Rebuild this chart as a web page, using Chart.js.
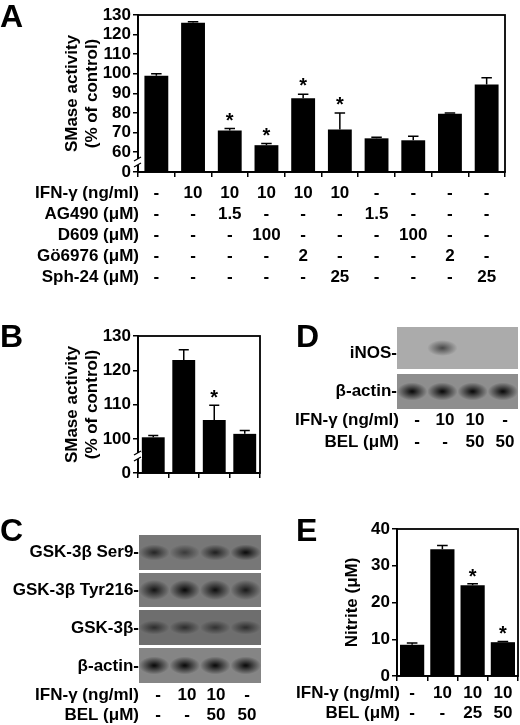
<!DOCTYPE html>
<html><head><meta charset="utf-8">
<script src="https://cdn.jsdelivr.net/npm/chart.js@4/dist/chart.umd.min.js"></script>
<style>
body{margin:0;background:#fff;width:520px;height:725px;position:relative;overflow:hidden;font-family:"Liberation Sans",Arial,sans-serif}
.c{position:absolute}
</style></head><body>
<canvas id="ov" class="c" width="520" height="725" style="left:0;top:0;width:520px;height:725px"></canvas>
<div class="c" style="left:0;top:0;width:520px;height:290px"><canvas id="cA"></canvas></div>
<div class="c" style="left:0;top:300px;width:290px;height:190px"><canvas id="cB"></canvas></div>
<div class="c" style="left:290px;top:500px;width:230px;height:225px"><canvas id="cE"></canvas></div>
<script>
// ---- data ----
const catsA = ['1','2','3','4','5','6','7','8','9','10'];
const valsA = [99,126,71,63.5,87.5,71.5,67,66,79.5,94.5];
const errA  = [1,0.5,1,0.8,2,8.5,0.5,2,0.5,3.5];
const starA = [0,0,1,1,1,1,0,0,0,0];
const rowLabelsA = ['IFN-γ (ng/ml)','AG490 (μM)','D609 (μM)','Gö6976 (μM)','Sph-24 (μM)'];
const rowsA = [
 ['-','10','10','10','10','10','-','-','-','-'],
 ['-','-','1.5','-','-','-','1.5','-','-','-'],
 ['-','-','-','100','-','-','-','100','-','-'],
 ['-','-','-','-','2','-','-','-','2','-'],
 ['-','-','-','-','-','25','-','-','-','25']];
const ticksA = [60,70,80,90,100,110,120,130];

const catsB = ['1','2','3','4'];
const valsB = [100.5,123,105.5,101.5];
const errB  = [0.5,3,4.3,1];
const starB = [0,0,1,0];
const ticksB = [100,110,120,130];

const catsE = ['1','2','3','4'];
const valsE = [8.5,34.5,24.7,9.2];
const errE  = [0.5,1,0.4,0.2];
const starE = [0,0,1,1];
const ticksE = [10,20,30,40];
const rowLabelsE = ['IFN-γ (ng/ml)','BEL (μM)'];
const rowsE = [['-','10','10','10'],['-','-','25','50']];

const rowLabelsCD = ['IFN-γ (ng/ml)','BEL (μM)'];
const rowsCD = [['-','10','10','-'],['-','-','50','50']];

const F = '"Liberation Sans", Arial, sans-serif';

function barChart(id, o){
  const plug = {
    id:'x'+id,
    afterDatasetsDraw(ch){
      const c=ch.ctx, a=ch.chartArea, x=ch.scales.x, y=ch.scales.y;
      c.save();
      c.strokeStyle='#000'; c.lineWidth=1.8;
      c.strokeRect(a.left,a.top,a.right-a.left,a.bottom-a.top);
      const meta=ch.getDatasetMeta(0);
      o.vals.forEach((v,i)=>{
        const bx=meta.data[i].x, bw=meta.data[i].width;
        const yt=y.getPixelForValue(v), ye=y.getPixelForValue(v+o.err[i]);
        c.lineWidth=1.5; c.beginPath(); c.moveTo(bx,yt); c.lineTo(bx,ye);
        c.moveTo(bx-bw*0.22,ye); c.lineTo(bx+bw*0.22,ye); c.stroke();
        if(o.star[i]){ c.fillStyle='#000'; c.font='bold 20px '+F; c.textAlign='center'; c.textBaseline='alphabetic';
          c.fillText('*',bx,ye+o.starOff); }
      });
      if(o.brk){
        const yb=(y.getPixelForValue(o.min)+y.getPixelForValue(o.ticks[0]))/2;
        c.fillStyle='#fff'; c.fillRect(a.left-4,yb-3,8,6);
        c.lineWidth=1.3; c.beginPath();
        c.moveTo(a.left-4,yb-1); c.lineTo(a.left+3,yb-5);
        c.moveTo(a.left-4,yb+5); c.lineTo(a.left+3,yb+1); c.stroke();
      }
      if(o.rows){
        c.fillStyle='#000'; c.font='bold '+o.rowFont+'px '+F; c.textBaseline='middle';
        o.rows.forEach((r,ri)=>{
          c.textAlign='right'; c.fillText(o.rowLabels[ri],o.labelX,o.rowY[ri]);
          c.textAlign='center';
          r.forEach((t,i)=>c.fillText(t,x.getPixelForValue(i),o.rowY[ri]));
        });
      }
      c.restore();
    }
  };
  new Chart(document.getElementById(id),{
    type:'bar',
    data:{labels:o.cats,datasets:[{data:o.vals,backgroundColor:'#000',borderWidth:0,barPercentage:o.bp,categoryPercentage:1,base:o.min}]},
    options:{responsive:true,maintainAspectRatio:false,animation:false,
      layout:{padding:{top:o.top,right:o.right,left:o.padL,bottom:0}},
      plugins:{legend:{display:false},tooltip:{enabled:false}},
      scales:{
        x:{ticks:{display:false},border:{color:'#000',width:1.8},
           grid:{display:true,drawOnChartArea:false,tickLength:5,color:'#000',lineWidth:1.5,offset:true},
           afterFit(s){s.height=o.xh;}},
        y:{min:o.min,max:o.max,border:{color:'#000',width:1.8},
           afterBuildTicks(s){s.ticks=[{value:o.min,label:'0'}].concat(o.ticks.map(v=>({value:v})));},
           ticks:{color:'#000',autoSkip:false,font:{family:F,size:o.tickFont,weight:'bold'},padding:2,
             callback(v){return v===o.min?'0':String(v);}},
           grid:{drawOnChartArea:false,tickLength:5,color:'#000',lineWidth:1.5},
           title:{display:true,text:o.title,color:'#000',font:{family:F,size:o.titleFont,weight:'bold'},padding:{bottom:0}},
           afterFit(s){s.width=o.yw;}}
      }},
    plugins:[plug]
  });
}

barChart('cA',{cats:catsA,vals:valsA,err:errA,star:starA,min:49.8,max:130,ticks:ticksA,brk:true,
  top:15,right:15,padL:58,xh:118,yw:80,bp:0.65,tickFont:17,title:['SMase activity','(% of control)'],titleFont:17,starOff:-2,
  rows:rowsA,rowLabels:rowLabelsA,rowY:[193,214,235,256,277],labelX:139,rowFont:17});
barChart('cB',{cats:catsB,vals:valsB,err:errB,star:starB,min:90.1,max:130,ticks:ticksB,brk:true,
  top:36,right:30,padL:58,xh:17,yw:80,bp:0.75,tickFont:17,title:['SMase activity','(% of control)'],titleFont:17,starOff:-1});
barChart('cE',{cats:catsE,vals:valsE,err:errE,star:starE,min:0,max:40,ticks:ticksE,brk:false,
  top:29,right:2,padL:48,xh:49,yw:59,bp:0.8,tickFont:17,title:'Nitrite (μM)',titleFont:17,starOff:-1,
  rows:rowsE,rowLabels:rowLabelsE,rowY:[193,213],labelX:110,rowFont:17});

// ---- overlay: letters, blots ----
const c=document.getElementById('ov').getContext('2d');
c.fillStyle='#000'; c.textBaseline='alphabetic'; c.textAlign='left';
c.font='bold 32px '+F;
c.fillText('A',0,27); c.fillText('B',0,347); c.fillText('D',296,347); c.fillText('C',0,541); c.fillText('E',296,541);

function blot(x,y,w,h,bg,bands,bh){
  c.fillStyle=bg; c.fillRect(x,y,w,h);
  const lw=w/4;
  bands.forEach((a,i)=>{
    if(a<=0)return;
    const cx=x+lw*(i+0.5), cy=y+h/2;
    const g=c.createRadialGradient(cx,cy,1,cx,cy,lw*0.5);
    g.addColorStop(0,'rgba(15,15,15,'+a+')'); g.addColorStop(1,'rgba(15,15,15,0)');
    c.save(); c.translate(cx,cy); c.scale(1,bh/lw); c.translate(-cx,-cy);
    c.fillStyle=g; c.beginPath(); c.arc(cx,cy,lw*0.5,0,Math.PI*2); c.fill(); c.restore();
  });
}
// C
blot(139,535,122,35,'#777',[0.75,0.55,0.8,1],16);
blot(139,573,122,34,'#7a7a7a',[0.9,1,0.95,0.85],20);
blot(139,610,122,35,'#6e6e6e',[0.65,0.65,0.6,0.65],14);
blot(139,648,122,35,'#858585',[1,1,1,1],18);
// D
blot(397,327,121,42,'#ababab',[0,0.6,0,0],16);
blot(397,374,121,35,'#8e8e8e',[1,1,1,1],18);

c.font='bold 17px '+F; c.textAlign='right'; c.textBaseline='middle'; c.fillStyle='#000';
[['GSK-3β Ser9-',552],['GSK-3β Tyr216-',590],['GSK-3β-',628],['β-actin-',666]].forEach(t=>c.fillText(t[0],139,t[1]));
[['iNOS-',353],['β-actin-',391]].forEach(t=>c.fillText(t[0],397,t[1]));
const lanesC=[158,187,216,247], lanesD=[417,445,475,505];
[[695,715,139,lanesC],[420,442,399,lanesD]].forEach(([y1,y2,lx,lanes])=>{
  [y1,y2].forEach((yy,ri)=>{
    c.textAlign='right'; c.fillText(rowLabelsCD[ri],lx,yy);
    c.textAlign='center'; rowsCD[ri].forEach((t,i)=>c.fillText(t,lanes[i],yy));
  });
});
</script></body></html>
